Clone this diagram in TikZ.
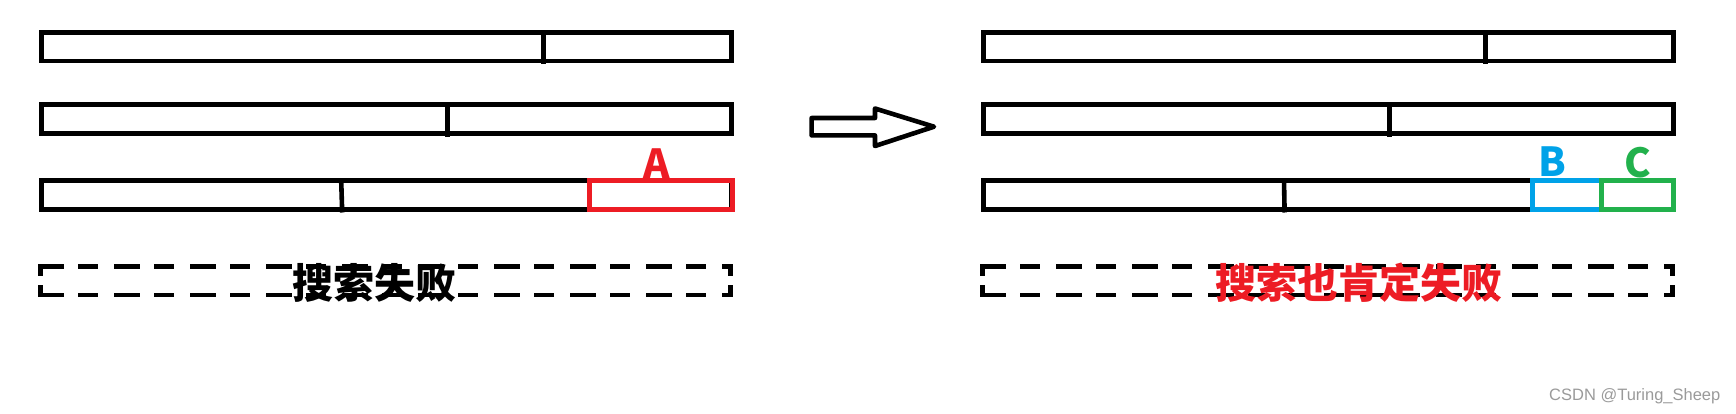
\documentclass[tikz,border=0pt]{standalone}
\usepackage{fontspec}
\usepackage{xcolor}
\newfontfamily\cjk{Noto Sans CJK SC}
\newfontfamily\wmfont{Liberation Sans}
\definecolor{paintred}{HTML}{ED1C24}
\definecolor{paintblue}{HTML}{00A2E8}
\definecolor{paintgreen}{HTML}{22B14C}
\definecolor{wmgray}{HTML}{9A9A9A}

\begin{document}
\begin{tikzpicture}[x=1pt,y=-1pt,
  bar/.style={line width=4.6pt},
  gapline/.style={line width=4.6pt,dash pattern=on 26pt off 14pt on 20pt off 16pt},
  gapside/.style={line width=4.6pt,dash pattern=on 12pt off 9pt on 14pt off 40pt},
  letter/.style={font=\cjk\bfseries\fontsize{40}{40}\selectfont,inner sep=0pt,anchor=base},
  fail/.style={font=\cjk\bfseries\fontsize{41}{41}\selectfont,inner sep=0pt},
  wm/.style={font=\wmfont\fontsize{16.5}{16.5}\selectfont,text=wmgray,inner sep=0pt,anchor=base west}]
 \useasboundingbox (0,0) rectangle (1736,413);
 % left: before
 \draw[bar] (41.6,32.4) rectangle (731.7,61);
 \draw[bar] (543.3,32.4)--(543.3,64);
 \draw[bar] (41.6,104.6) rectangle (731.7,133.4);
 \draw[bar] (447.7,104.6)--(447.7,136.5);
 \draw[bar] (41.6,180.6) rectangle (731.7,209.4);
 \draw[bar] (341.2,180.6)--(342.2,212.5);
 \draw[bar,paintred] (589.6,180.6) rectangle (732.7,209.4);
 \node[letter,text=paintred] (labA) at (657,178) {A};
 \draw[gapline] (38.3,266.4)--(732.7,266.4);
 \draw[gapline] (38.3,295)--(732.7,295);
 \draw[gapside] (40.6,264)--(40.6,297.3);
 \draw[gapside] (730.4,264)--(730.4,297.3);
 \node[fail] (failL) at (374,283) {搜索失败};
 %%%%%%%%%%%%%%%%%%%%%%%%%%%%%%%%%%%
 \draw[bar,line join=round] (811.6,118)--(875,118)--(875,108.5)--(934,126.7)
   --(875,146)--(875,135.4)--(811.6,135.4)--cycle;
 %%%%%%%%%%%%%%%%%%%%%%%%%%%%%%%%%%%
 % right: after
 \draw[bar] (983.3,32.4) rectangle (1673.7,61);
 \draw[bar] (1485.7,32.4)--(1485.7,64);
 \draw[bar] (983.3,104.6) rectangle (1673.7,133.4);
 \draw[bar] (1389.3,104.6)--(1389.3,136.5);
 \draw[bar] (983.3,180.6) rectangle (1673.7,209.4);
 \draw[bar] (1284,180.6)--(1284.6,212.5);
 \draw[bar,paintblue] (1532.3,180.6) rectangle (1601.7,209.4);
 \draw[bar,paintgreen] (1601.7,180.6) rectangle (1673.7,209.4);
 \node[letter,text=paintblue] (labB) at (1552,176) {B};
 \node[letter,text=paintgreen] (labC) at (1637.5,177) {C};
 \draw[gapline] (980.3,266.4)--(1675,266.4);
 \draw[gapline] (980.3,295)--(1675,295);
 \draw[gapside] (982.6,264)--(982.6,297.3);
 \draw[gapside] (1672.7,264)--(1672.7,297.3);
 \node[fail,text=paintred] (failR) at (1358.5,283) {搜索也肯定失败};
 \node[wm] (mark) at (1549,400) {CSDN @Turing\_Sheep};
\end{tikzpicture}
\end{document}
